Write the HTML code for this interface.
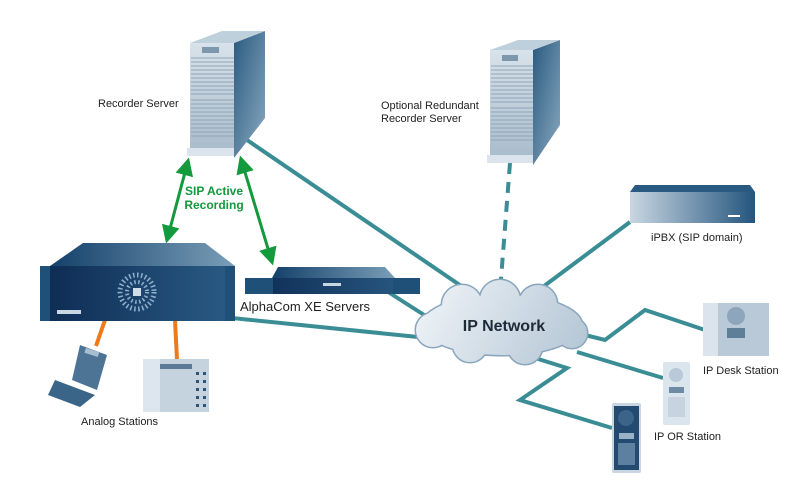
<!DOCTYPE html>
<html><head><meta charset="utf-8"><style>
html,body{margin:0;padding:0;background:#fff;width:800px;height:495px;overflow:hidden}
svg{display:block;font-family:"Liberation Sans",sans-serif}
</style></head><body>
<svg width="800" height="495" viewBox="0 0 800 495">
<defs>
<linearGradient id="srv" x1="0" y1="0" x2="0" y2="1"><stop offset="0" stop-color="#d8e2ea"/><stop offset="1" stop-color="#a9bccb"/></linearGradient>
<linearGradient id="side" x1="0" y1="0" x2="1" y2="1"><stop offset="0" stop-color="#2a5a80"/><stop offset="1" stop-color="#8aaac0"/></linearGradient>
<linearGradient id="rack" x1="0" y1="0" x2="1" y2="0"><stop offset="0" stop-color="#0d2a52"/><stop offset="1" stop-color="#2a5c85"/></linearGradient>
<linearGradient id="racktop" x1="0" y1="0" x2="1" y2="0"><stop offset="0" stop-color="#14406a"/><stop offset="1" stop-color="#7a9eb8"/></linearGradient>
<linearGradient id="pbx" x1="0" y1="0" x2="1" y2="0"><stop offset="0" stop-color="#c9d7e2"/><stop offset="1" stop-color="#24557e"/></linearGradient>
<linearGradient id="cl" gradientUnits="userSpaceOnUse" x1="430" y1="280" x2="580" y2="365"><stop offset="0" stop-color="#eef3f7"/><stop offset="1" stop-color="#b3c5d4"/></linearGradient>
<marker id="ah" viewBox="0 0 10 10" refX="8" refY="5" markerWidth="6" markerHeight="6" orient="auto-start-reverse"><path d="M0,0L10,5L0,10z" fill="#129a3c"/></marker>
</defs>

<g stroke="#3a8d95" stroke-width="4" fill="none">
<line x1="247" y1="140" x2="470" y2="292"/>
<line x1="510" y1="163" x2="500" y2="292" stroke-dasharray="11,8"/>
<line x1="630" y1="222" x2="528" y2="298"/>
<line x1="385" y1="290" x2="432" y2="320"/>
<line x1="232" y1="318" x2="418" y2="337"/>
<polyline points="585,335 605,340 645,310 705,330"/>
<line x1="577" y1="352" x2="663" y2="378"/>
<polyline points="535,358 567,368 520,400 612,428"/>
</g>
<g stroke="#ec7b1d" stroke-width="4">
<line x1="105" y1="320" x2="96" y2="346"/>
<line x1="175" y1="320" x2="177" y2="360"/>
</g>

<polygon points="234,43 265,31 265,118 234,158" fill="url(#side)"/>
<polygon points="190,43 234,43 265,31 222,31" fill="#bfd0dd"/>
<rect x="190" y="43" width="44" height="108" fill="url(#srv)"/>
<rect x="202" y="47" width="17" height="6" fill="#7d97ad"/>
<g stroke="#8ea5b8" stroke-width="1">
<path d="M191,58h43M191,62h43M191,66h43M191,70h43M191,74h43M191,78h43M191,82h43M191,86h43M191,90h43M191,94h43M191,100h43M191,104h43M191,108h43M191,112h43M191,116h43M191,120h43M191,124h43M191,128h43M191,132h43M191,136h43"/>
</g>
<rect x="187" y="148" width="47" height="8" fill="#dbe4ec"/>
<polygon points="533,50 560,40 560,125 533,165" fill="url(#side)"/>
<polygon points="490,50 533,50 560,40 518,40" fill="#bfd0dd"/>
<rect x="490" y="50" width="43" height="108" fill="url(#srv)"/>
<rect x="502" y="55" width="16" height="6" fill="#7d97ad"/>
<g stroke="#8ea5b8" stroke-width="1">
<path d="M491,66h42M491,70h42M491,74h42M491,78h42M491,82h42M491,86h42M491,90h42M491,94h42M491,98h42M491,102h42M491,108h42M491,112h42M491,116h42M491,120h42M491,124h42M491,128h42M491,132h42M491,136h42M491,140h42"/>
</g>
<rect x="487" y="155" width="46" height="8" fill="#dbe4ec"/>

<line x1="188" y1="161" x2="167" y2="240" stroke="#129a3c" stroke-width="3" marker-start="url(#ah)" marker-end="url(#ah)"/>
<line x1="241" y1="159" x2="272" y2="262" stroke="#129a3c" stroke-width="3" marker-start="url(#ah)" marker-end="url(#ah)"/>
<text x="214" y="195" font-size="12" font-weight="bold" fill="#129a3c" text-anchor="middle">SIP Active</text>
<text x="214" y="209" font-size="12" font-weight="bold" fill="#129a3c" text-anchor="middle">Recording</text>

<polygon points="83,243 205,243 235,266 50,266" fill="url(#racktop)"/>
<rect x="40" y="266" width="195" height="55" fill="url(#rack)"/>
<rect x="40" y="266" width="10" height="55" fill="#1e5078"/>
<rect x="225" y="266" width="10" height="55" fill="#1e5078"/>
<circle cx="137" cy="292" r="17" fill="none" stroke="#8fb0cc" stroke-width="5" stroke-dasharray="1.5,2.5"/>
<circle cx="137" cy="292" r="10" fill="none" stroke="#8fb0cc" stroke-width="4" stroke-dasharray="1.5,2.5"/>
<rect x="133" y="288" width="8" height="8" fill="#d0dde8"/>
<rect x="57" y="310" width="24" height="4" fill="#c8d6e2"/>
<polygon points="278,267 385,267 395,278 272,278" fill="url(#racktop)"/>
<rect x="245" y="278" width="175" height="16" rx="1" fill="url(#rack)"/>
<rect x="245" y="278" width="28" height="16" fill="#1e5078"/>
<rect x="393" y="278" width="27" height="16" fill="#1e5078"/>
<rect x="323" y="283" width="18" height="3" fill="#c8d6e2"/>

<polygon points="80,345 107,355 97,390 72,380" fill="#4d7395"/>
<rect x="85" y="350" width="14" height="5" fill="#a7bdd0" transform="rotate(18 92 352)"/>
<polygon points="55,380 95,395 80,407 48,395" fill="#3a6488"/>
<rect x="143" y="359" width="66" height="53" fill="#c5d3df"/>
<rect x="143" y="359" width="17" height="53" fill="#dde6ee"/>
<rect x="160" y="364" width="32" height="5" fill="#5a7a98"/>
<g fill="#2c5478"><rect x="196" y="372" width="3" height="3"/><rect x="203" y="372" width="3" height="3"/><rect x="196" y="380" width="3" height="3"/><rect x="203" y="380" width="3" height="3"/><rect x="196" y="388" width="3" height="3"/><rect x="203" y="388" width="3" height="3"/><rect x="196" y="396" width="3" height="3"/><rect x="203" y="396" width="3" height="3"/><rect x="196" y="404" width="3" height="3"/><rect x="203" y="404" width="3" height="3"/></g>

<polygon points="635,185 750,185 755,192 630,192" fill="#2a5a82"/>
<rect x="630" y="192" width="125" height="31" fill="url(#pbx)"/>
<rect x="728" y="215" width="12" height="2" fill="#fff"/>

<g stroke="#8aa6bd" stroke-width="3" fill="#c9d6e1">
<ellipse cx="502" cy="325" rx="80" ry="30"/>
<circle cx="462" cy="305" r="20"/><circle cx="500" cy="300" r="20"/><circle cx="538" cy="304" r="19"/>
<circle cx="433" cy="330" r="17"/><circle cx="572" cy="333" r="15"/>
<circle cx="470" cy="345" r="17"/><circle cx="525" cy="347" r="17"/>
</g>
<g fill="url(#cl)">
<ellipse cx="502" cy="325" rx="80" ry="30"/>
<circle cx="462" cy="305" r="20"/><circle cx="500" cy="300" r="20"/><circle cx="538" cy="304" r="19"/>
<circle cx="433" cy="330" r="17"/><circle cx="572" cy="333" r="15"/>
<circle cx="470" cy="345" r="17"/><circle cx="525" cy="347" r="17"/>
</g>
<text x="504" y="331" font-size="16" font-weight="bold" fill="#1e2a38" text-anchor="middle">IP Network</text>

<rect x="703" y="303" width="66" height="53" fill="#b9c9d7"/>
<rect x="703" y="303" width="15" height="53" fill="#dbe4ec"/>
<circle cx="736" cy="316" r="9" fill="#8ea6bb"/>
<rect x="727" y="328" width="18" height="10" fill="#5f7e98"/>
<rect x="663" y="362" width="27" height="63" rx="2" fill="#dbe5ee"/>
<circle cx="676" cy="375" r="7" fill="#b9c9d7"/>
<rect x="669" y="387" width="15" height="6" fill="#6d8ba5"/>
<rect x="668" y="397" width="17" height="20" fill="#c7d4e0"/>
<rect x="612" y="403" width="29" height="70" rx="2" fill="#c9d6e2"/>
<rect x="614" y="406" width="25" height="64" fill="#234a70"/>
<circle cx="626" cy="418" r="8" fill="#3c6488"/>
<rect x="619" y="433" width="15" height="6" fill="#9ab2c6"/>
<rect x="618" y="443" width="17" height="22" fill="#5d80a0"/>

<g font-size="11" fill="#222">
<text x="98" y="107">Recorder Server</text>
<text x="381" y="109">Optional Redundant</text>
<text x="381" y="122">Recorder Server</text>
<text x="651" y="241">iPBX (SIP domain)</text>
<text x="81" y="425">Analog Stations</text>
<text x="703" y="374">IP Desk Station</text>
<text x="654" y="440">IP OR Station</text>
</g>
<text x="240" y="311" font-size="13" fill="#222">AlphaCom XE Servers</text>
</svg>
</body></html>
